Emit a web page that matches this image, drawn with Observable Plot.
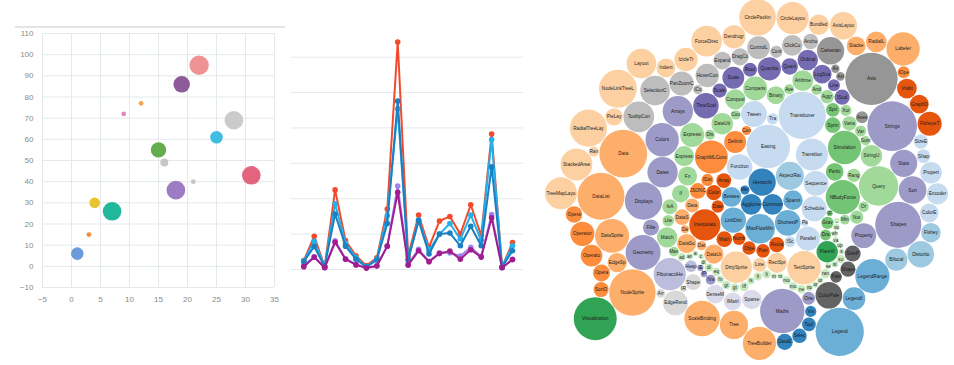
<!DOCTYPE html>
<html><head><meta charset="utf-8">
<script src="https://cdn.jsdelivr.net/npm/d3@7"></script>
<script src="https://cdn.jsdelivr.net/npm/@observablehq/plot@0.6"></script>
<style>
html,body{margin:0;padding:0;background:#fff;}
#page{position:relative;width:954px;height:365px;overflow:hidden;font-family:"Liberation Sans",Arial,sans-serif;}
#page > svg{position:absolute;}
#rule{position:absolute;left:15px;top:26px;width:270px;height:0;border-top:2px solid #e4e4e4;}
</style></head><body><div id="page"><div id="rule"></div></div>
<script>
// ---------- Panel 1: scatter bubbles ----------
const scatterX = [1, 3, 4, 7, 9, 12, 15, 16, 18, 19, 21, 22, 25, 28, 31];
const scatterY = [6, 15, 30, 26, 72, 77, 55, 49, 36, 86, 40, 95, 61, 69, 43];
const scatterSize = [42, 6, 30, 92, 6, 6, 63, 17, 92, 73, 6, 100, 42, 92, 92];
const scatterXTicks = [-5, 0, 5, 10, 15, 20, 25, 30, 35];
const scatterYTicks = [-10, 0, 10, 20, 30, 40, 50, 60, 70, 80, 90, 100, 110];
const scatterPalette = ["#6b9bd8", "#f28b3e", "#eac42e", "#22b89c", "#e28ac4", "#f7a452", "#64ad4f", "#c6c6c6",
  "#9d7cc3", "#8d5b99", "#c6c6c6", "#ef9293", "#3fbde2", "#cbcbcb", "#e2647f"];

// ---------- Panel 2: lines ----------
const lineSeriesNames = ["A", "B", "C", "D", "E"];
const seriesA = [2.5, 9.4, 0.8, 22.5, 8.2, 3.9, 1.1, 3.3, 17.1, 64.3, 3.8, 15.4, 6.3, 13.7, 15.0, 10.0, 18.3, 9.6, 38.3, 0.7, 7.6];
const seriesD = [1.1, 3.6, 0.6, 8.1, 3.0, 1.5, 0.5, 1.1, 6.6, 23.6, 1.6, 5.7, 2.3, 4.7, 4.7, 3.8, 6.3, 3.7, 15.5, 0.5, 2.9];
const seriesB = [2.4, 8.0, 0.8, 18.6, 7.4, 3.4, 0.8, 2.9, 15.2, 45.4, 2.9, 14.0, 5.4, 10.0, 13.0, 8.6, 15.4, 8.3, 36.7, 0.7, 6.7];
const seriesC = [2.2, 6.5, 0.8, 15.7, 6.6, 2.9, 0.7, 2.7, 13.0, 47.6, 2.7, 13.8, 4.4, 10.0, 10.3, 6.7, 12.2, 6.7, 29.0, 0.7, 5.3];
const seriesE = [0.8, 3.5, 0.5, 7.7, 2.9, 1.3, 0.4, 1.0, 6.6, 21.8, 1.2, 5.3, 2.2, 4.5, 5.2, 2.9, 5.6, 3.5, 14.6, 0.5, 2.8];
const lineGridTicks = [0, 10, 20, 30, 40, 50, 60];
const linePalette = ["#f24a2c", "#25b0ea", "#1a80c2", "#9f84ec", "#a21c8f"];

// ---------- Panel 3: packed bubbles (flare classes) ----------
const flareAnalytics = [
  ["cluster","AgglomerativeCluster",3938],["cluster","CommunityStructure",3812],["cluster","HierarchicalCluster",6714],["cluster","MergeEdge",743],
  ["graph","BetweennessCentrality",3534],["graph","LinkDistance",5731],["graph","MaxFlowMinCut",7840],["graph","ShortestPaths",5914],["graph","SpanningTree",3416],
  ["optimization","AspectRatioBanker",7074]];
const flareAnimate = [
  ["animate","Easing",17010],["animate","FunctionSequence",5842],
  ["interpolate","ArrayInterpolator",1983],["interpolate","ColorInterpolator",2047],["interpolate","DateInterpolator",1375],["interpolate","Interpolator",8746],
  ["interpolate","MatrixInterpolator",2202],["interpolate","NumberInterpolator",1382],["interpolate","ObjectInterpolator",1629],["interpolate","PointInterpolator",1675],
  ["interpolate","RectangleInterpolator",2042],
  ["animate","ISchedulable",1041],["animate","Parallel",5176],["animate","Pause",449],["animate","Scheduler",5593],["animate","Sequence",5534],
  ["animate","Transition",9201],["animate","Transitioner",19975],["animate","TransitionEvent",1116],["animate","Tween",6006]];
const flareData = [
  ["converters","Converters",721],["converters","DelimitedTextConverter",4294],["converters","GraphMLConverter",9800],["converters","IDataConverter",1314],["converters","JSONConverter",2220],
  ["data","DataField",1759],["data","DataSchema",2165],["data","DataSet",586],["data","DataSource",3331],["data","DataTable",772],["data","DataUtil",3322]];
const flareDisplay = [["display","DirtySprite",8833],["display","LineSprite",1732],["display","RectSprite",3623],["display","TextSprite",10066]];
const flareFlex = [["flex","FlareVis",4116]];
const flarePhysics = [
  ["physics","DragForce",1082],["physics","GravityForce",1336],["physics","IForce",319],["physics","NBodyForce",10498],["physics","Particle",2822],
  ["physics","Simulation",9983],["physics","Spring",2213],["physics","SpringForce",1681]];
const flareQuery = [
  ["query","AggregateExpression",1616],["query","And",1027],["query","Arithmetic",3891],["query","Average",891],["query","BinaryExpression",2893],
  ["query","Comparison",5103],["query","CompositeExpression",3677],["query","Count",781],["query","DateUtil",4141],["query","Distinct",933],
  ["query","Expression",5130],["query","ExpressionIterator",3617],["query","Fn",3240],["query","If",2732],["query","IsA",2039],["query","Literal",1214],
  ["query","Match",3748],["query","Maximum",843],
  ["methods","add",593],["methods","and",330],["methods","average",287],["methods","count",277],["methods","distinct",292],["methods","div",595],
  ["methods","eq",594],["methods","fn",460],["methods","gt",603],["methods","gte",625],["methods","iff",748],["methods","isa",461],["methods","lt",597],
  ["methods","lte",619],["methods","max",283],["methods","min",283],["methods","mod",591],["methods","mul",603],["methods","neq",599],["methods","not",386],
  ["methods","or",323],["methods","orderby",307],["methods","range",772],["methods","select",296],["methods","stddev",363],["methods","sub",600],
  ["methods","sum",280],["methods","update",307],["methods","variance",335],["methods","where",299],["methods","xor",354],["methods","_",264],
  ["query","Minimum",843],["query","Not",1554],["query","Or",970],["query","Query",13896],["query","Range",1594],["query","StringUtil",4130],
  ["query","Sum",791],["query","Variable",1124],["query","Variance",1876],["query","Xor",1101]];
const flareScale = [
  ["scale","IScaleMap",2105],["scale","LinearScale",1316],["scale","LogScale",3151],["scale","OrdinalScale",3770],["scale","QuantileScale",2435],
  ["scale","QuantitativeScale",4839],["scale","RootScale",1756],["scale","Scale",4268],["scale","ScaleType",1821],["scale","TimeScale",5833]];
const flareUtil = [
  ["util","Arrays",8258],["util","Colors",10001],["util","Dates",8217],["util","Displays",12555],["util","Filter",2324],["util","Geometry",10993],
  ["heap","FibonacciHeap",9354],["heap","HeapNode",1233],
  ["util","IEvaluable",335],["util","IPredicate",383],["util","IValueProxy",874],
  ["math","DenseMatrix",3165],["math","IMatrix",2815],["math","SparseMatrix",3366],
  ["util","Maths",17705],["util","Orientation",1486],
  ["palette","ColorPalette",6367],["palette","Palette",1229],["palette","ShapePalette",2059],["palette","SizePalette",2291],
  ["util","Property",5559],["util","Shapes",19118],["util","Sort",6887],["util","Stats",6557],["util","Strings",22026]];
const flareVis = [
  ["axis","Axes",1302],["axis","Axis",24593],["axis","AxisGridLine",652],["axis","AxisLabel",636],["axis","CartesianAxes",6703],
  ["controls","AnchorControl",2138],["controls","ClickControl",3824],["controls","Control",1353],["controls","ControlList",4665],["controls","DragControl",2649],
  ["controls","ExpandControl",2832],["controls","HoverControl",4896],["controls","IControl",763],["controls","PanZoomControl",5222],
  ["controls","SelectionControl",7862],["controls","TooltipControl",8435],
  ["data","Data",20544],["data","DataList",19788],["data","DataSprite",10349],["data","EdgeSprite",3301],["data","NodeSprite",19382],
  ["render","ArrowType",698],["render","EdgeRenderer",5569],["render","IRenderer",353],["render","ShapeRenderer",2247],
  ["data","ScaleBinding",11275],["data","Tree",7147],["data","TreeBuilder",9930],
  ["events","DataEvent",2313],["events","SelectionEvent",1880],["events","TooltipEvent",1701],["events","VisualizationEvent",1117],
  ["legend","Legend",20859],["legend","LegendItem",4614],["legend","LegendRange",10530],
  ["distortion","BifocalDistortion",4461],["distortion","Distortion",6314],["distortion","FisheyeDistortion",3444],
  ["encoder","ColorEncoder",3179],["encoder","Encoder",4060],["encoder","PropertyEncoder",4138],["encoder","ShapeEncoder",1690],["encoder","SizeEncoder",1830],
  ["filter","FisheyeTreeFilter",5219],["filter","GraphDistanceFilter",3165],["filter","VisibilityFilter",3509],
  ["operator","IOperator",1286],
  ["label","Labeler",9956],["label","RadialLabeler",3899],["label","StackedAreaLabeler",3202],
  ["layout","AxisLayout",6725],["layout","BundledEdgeRouter",3727],["layout","CircleLayout",9317],["layout","CirclePackingLayout",12003],
  ["layout","DendrogramLayout",4853],["layout","ForceDirectedLayout",8411],["layout","IcicleTreeLayout",4864],["layout","IndentedTreeLayout",3174],
  ["layout","Layout",7881],["layout","NodeLinkTreeLayout",12870],["layout","PieLayout",2728],["layout","RadialTreeLayout",12348],
  ["layout","RandomLayout",870],["layout","StackedAreaLayout",9121],["layout","TreeMapLayout",9191],
  ["operator","Operator",2490],["operator","OperatorList",5248],["operator","OperatorSequence",4190],["operator","OperatorSwitch",2581],["operator","SortOperator",2023],
  ["vis","Visualization",16540]];
const category20c = ["#3182bd","#6baed6","#9ecae1","#c6dbef","#e6550d","#fd8d3c","#fdae6b","#fdd0a2","#31a354","#74c476",
  "#a1d99b","#c7e9c0","#756bb1","#9e9ac8","#bcbddc","#dadaeb","#636363","#969696","#bdbdbd","#d9d9d9"];

// Classic front-chain circle packing (sequential, unsorted), as in the original bubble chart layout.
function frontChainPack(values, w, h, padding) {
  const nodes = values.map(v => ({v, r: Math.sqrt(v), x: 0, y: 0}));
  function place(a, b, c) {
    let db = a.r + c.r; const dx = b.x - a.x, dy = b.y - a.y;
    if (db && (dx || dy)) {
      let da = b.r + c.r; const dc = dx * dx + dy * dy;
      da *= da; db *= db;
      const x = 0.5 + (db - da) / (2 * dc);
      const y = Math.sqrt(Math.max(0, 2 * da * (db + dc) - (db -= dc) * db - da * da)) / (2 * dc);
      c.x = a.x + x * dx + y * dy; c.y = a.y + x * dy - y * dx;
    } else { c.x = a.x + db; c.y = a.y; }
  }
  function intersects(a, b) { const dx = b.x - a.x, dy = b.y - a.y, dr = a.r + b.r; return 0.999 * dr * dr > dx * dx + dy * dy; }
  function insert(a, b) { const c = a.next; a.next = b; b.prev = a; b.next = c; c.prev = b; }
  function splice(a, b) { a.next = b; b.prev = a; }
  function siblings() {
    const n = nodes.length;
    let xMin = Infinity, xMax = -Infinity, yMin = Infinity, yMax = -Infinity, a, b, c, i, j, k;
    const bound = d => { xMin = Math.min(d.x - d.r, xMin); xMax = Math.max(d.x + d.r, xMax); yMin = Math.min(d.y - d.r, yMin); yMax = Math.max(d.y + d.r, yMax); };
    nodes.forEach(d => { d.next = d.prev = d; });
    a = nodes[0]; a.x = -a.r; a.y = 0; bound(a);
    b = nodes[1]; b.x = b.r; b.y = 0; bound(b);
    c = nodes[2]; place(a, b, c); bound(c);
    insert(a, c); a.prev = c; insert(c, b); b = a.next;
    for (i = 3; i < n; i++) {
      place(a, b, c = nodes[i]);
      let isect = 0, s1 = 1, s2 = 1;
      for (j = b.next; j !== b; j = j.next, s1++) { if (intersects(j, c)) { isect = 1; break; } }
      if (isect == 1) { for (k = a.prev; k !== j.prev; k = k.prev, s2++) { if (intersects(k, c)) break; } }
      if (isect) {
        if (s1 < s2 || (s1 == s2 && b.r < a.r)) splice(a, b = j); else splice(a = k, b);
        i--;
      } else { insert(a, c); b = c; bound(c); }
    }
    const cx = (xMin + xMax) / 2, cy = (yMin + yMax) / 2;
    let cr = 0;
    for (const d of nodes) { d.x -= cx; d.y -= cy; cr = Math.max(cr, d.r + Math.sqrt(d.x * d.x + d.y * d.y)); }
    return cr;
  }
  let rootR = siblings();
  const dr = padding * Math.max(2 * rootR / w, 2 * rootR / h) / 2;
  nodes.forEach(d => d.r += dr);
  rootR = siblings();
  nodes.forEach(d => d.r -= dr);
  rootR -= dr;
  const kk = 1 / Math.max(2 * rootR / w, 2 * rootR / h);
  return nodes.map(d => ({x: w / 2 + kk * d.x, y: h / 2 + kk * d.y, r: d.r * kk}));
}

const page = document.getElementById("page");
const baseStyle = {background: "transparent", overflow: "visible", fontFamily: "'Liberation Sans', Arial, sans-serif"};

// ---- Panel 3 ----
const flareLeaves = [...flareAnalytics, ...flareAnimate, ...flareData, ...flareDisplay, ...flareFlex, ...flarePhysics,
  ...flareQuery, ...flareScale, ...flareUtil, ...flareVis].map(([pkg, name, size]) => ({pkg, name, size}));
const layout = frontChainPack(flareLeaves.map(d => d.size), 960, 960, 1.5);
const bubbles = flareLeaves.map((d, i) => ({...layout[i], pkg: d.pkg, name: d.name}));
const pkgDomain = [...new Set(flareLeaves.map(d => d.pkg))];
const packDiameter = 454, packCx = 746, packCy = 179;
const packFont = 10 * packDiameter / 960;
const pack = Plot.plot({
  width: 954, height: 365, margin: 0,
  style: baseStyle,
  x: {domain: [0, 960], range: [packCx - packDiameter / 2, packCx + packDiameter / 2], axis: null},
  y: {domain: [0, 960], range: [packCy - packDiameter / 2, packCy + packDiameter / 2], axis: null},
  r: {type: "linear", domain: [0, 960], range: [0, packDiameter]},
  color: {type: "ordinal", domain: pkgDomain, range: pkgDomain.map((_, i) => category20c[i % 20])},
  marks: [
    Plot.dot(bubbles, {x: "x", y: "y", r: "r", fill: "pkg"}),
    Plot.text(bubbles, {x: "x", y: "y", text: d => d.name.substring(0, d.r / 3), fontSize: packFont, fill: "#1a1a1a"})
  ]
});
pack.style.left = "0px"; pack.style.top = "0px";
page.appendChild(pack);

// ---- Panel 1 ----
const scatter = scatterX.map((x, i) => ({id: i, x, y: scatterY[i], s: scatterSize[i]}));
const p1 = Plot.plot({
  width: 290, height: 310,
  marginLeft: 42, marginRight: 16, marginTop: 33, marginBottom: 23,
  style: {...baseStyle, color: "#8a8a8a", fontSize: "8px"},
  x: {domain: [-5, 35], ticks: scatterXTicks, tickSize: 0, tickPadding: 9, label: null},
  y: {domain: [-10, 110], ticks: scatterYTicks, tickSize: 0, tickPadding: 9, label: null},
  r: {type: "sqrt", domain: [0, 100], range: [0, 9.7]},
  color: {type: "ordinal", domain: scatter.map(d => d.id), range: scatterPalette},
  marks: [
    Plot.ruleX(scatterXTicks, {stroke: "#e3e9ec", strokeWidth: 1}),
    Plot.ruleY(scatterYTicks, {stroke: "#e3e9ec", strokeWidth: 1}),
    Plot.dot(scatter, {x: "x", y: "y", r: "s", fill: "id"})
  ]
});
p1.style.left = "0px"; p1.style.top = "0px";
page.appendChild(p1);

// ---- Panel 2 ----
const seriesValues = {A: seriesA, B: seriesB, C: seriesC, D: seriesD, E: seriesE};
const drawOrder = ["A", "D", "B", "C", "E"];
const lineRows = s => seriesValues[s].map((v, i) => ({series: s, i, v}));
const lineMarks = [];
for (const s of drawOrder) {
  const rows = lineRows(s);
  lineMarks.push(Plot.line(rows, {x: "i", y: "v", stroke: "series", strokeWidth: 2}));
  lineMarks.push(Plot.dot(rows, {x: "i", y: "v", fill: "series", r: 2.8}));
}
const p2 = Plot.plot({
  width: 260, height: 260,
  marginLeft: 11, marginRight: 17, marginTop: 36.7, marginBottom: 11,
  style: baseStyle,
  x: {domain: [0, 20], insetLeft: 12.3, insetRight: 11, axis: null},
  y: {domain: [0, 60], axis: null},
  color: {type: "ordinal", domain: lineSeriesNames, range: linePalette},
  marks: [
    Plot.ruleY(lineGridTicks, {stroke: "#e3e9ec", strokeWidth: 1}),
    ...lineMarks
  ]
});
p2.style.left = "280px"; p2.style.top = "20px";
page.appendChild(p2);
</script></body></html>
